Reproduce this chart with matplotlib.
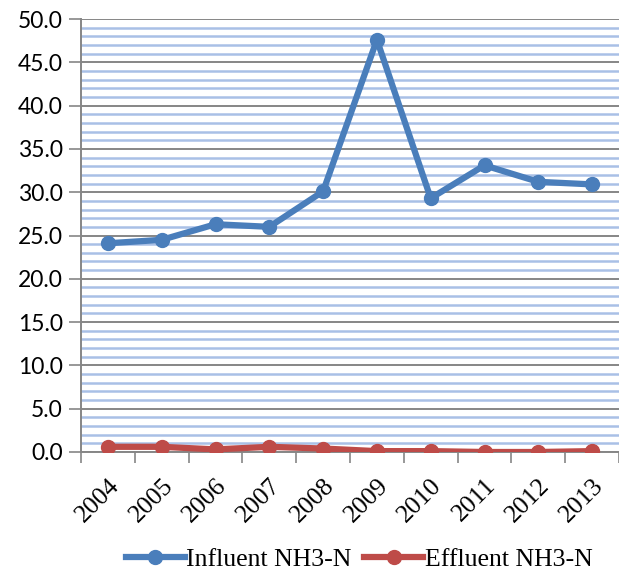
import numpy as np
import matplotlib.pyplot as plt
from matplotlib.ticker import MultipleLocator

years = ['2004', '2005', '2006', '2007', '2008', '2009', '2010', '2011', '2012', '2013']
influent = [24.1, 24.5, 26.3, 26.0, 30.1, 47.6, 29.3, 33.1, 31.2, 30.9]
effluent = [0.6, 0.6, 0.3, 0.6, 0.4, 0.1, 0.1, 0.0, 0.0, 0.1]

fig = plt.figure(figsize=(6.19, 5.80), dpi=100)
ax = fig.add_axes([81 / 619, 1 - 452 / 580, 538 / 619, 433 / 580])

x = np.arange(len(years))
ax.plot(x, influent, color='#4a7ebb', lw=4.5, marker='o', ms=10, label='Influent NH3-N', zorder=3)
ax.plot(x, effluent, color='#be4b48', lw=4.5, marker='o', ms=10, label='Effluent NH3-N', zorder=3)

ax.set_xlim(-0.5, len(years) - 0.5)
ax.set_ylim(0, 50)
ax.yaxis.set_major_locator(MultipleLocator(5))
ax.yaxis.set_minor_locator(MultipleLocator(1))
ax.grid(which='minor', axis='y', color='#a9c0e6', lw=1.8)
ax.grid(which='major', axis='y', color='#868686', lw=1.4)
ax.set_axisbelow(True)
ax.tick_params(axis='y', which='minor', length=0)
ax.tick_params(axis='y', which='major', length=9, width=1.2, color='#868686', pad=4)
ax.set_yticks(np.arange(0, 51, 5))
ax.set_yticklabels([f'{v:.1f}' for v in np.arange(0, 51, 5)], fontsize=16.5, family='Lato')

ax.set_xticks(x)
ax.set_xticklabels(years, rotation=45, ha='right', rotation_mode='anchor', fontsize=18.5, family='Liberation Serif')
ax.set_xticks(np.arange(-0.5, len(years), 1), minor=True)
ax.tick_params(axis='x', which='major', length=0, pad=16)
ax.tick_params(axis='x', which='minor', length=8, width=1.2, color='#868686')

for s in ['top', 'right']:
    ax.spines[s].set_visible(False)
for s in ['left', 'bottom']:
    ax.spines[s].set_color('#868686')
    ax.spines[s].set_linewidth(1.4)

leg = fig.legend(loc='lower center', bbox_to_anchor=(0.58, -0.025), ncol=2, frameon=False,
                 prop={'family': 'Liberation Serif', 'size': 18.5}, handlelength=2.3,
                 columnspacing=0.5, handletextpad=0.05)

fig.savefig('out.png', dpi=100)
